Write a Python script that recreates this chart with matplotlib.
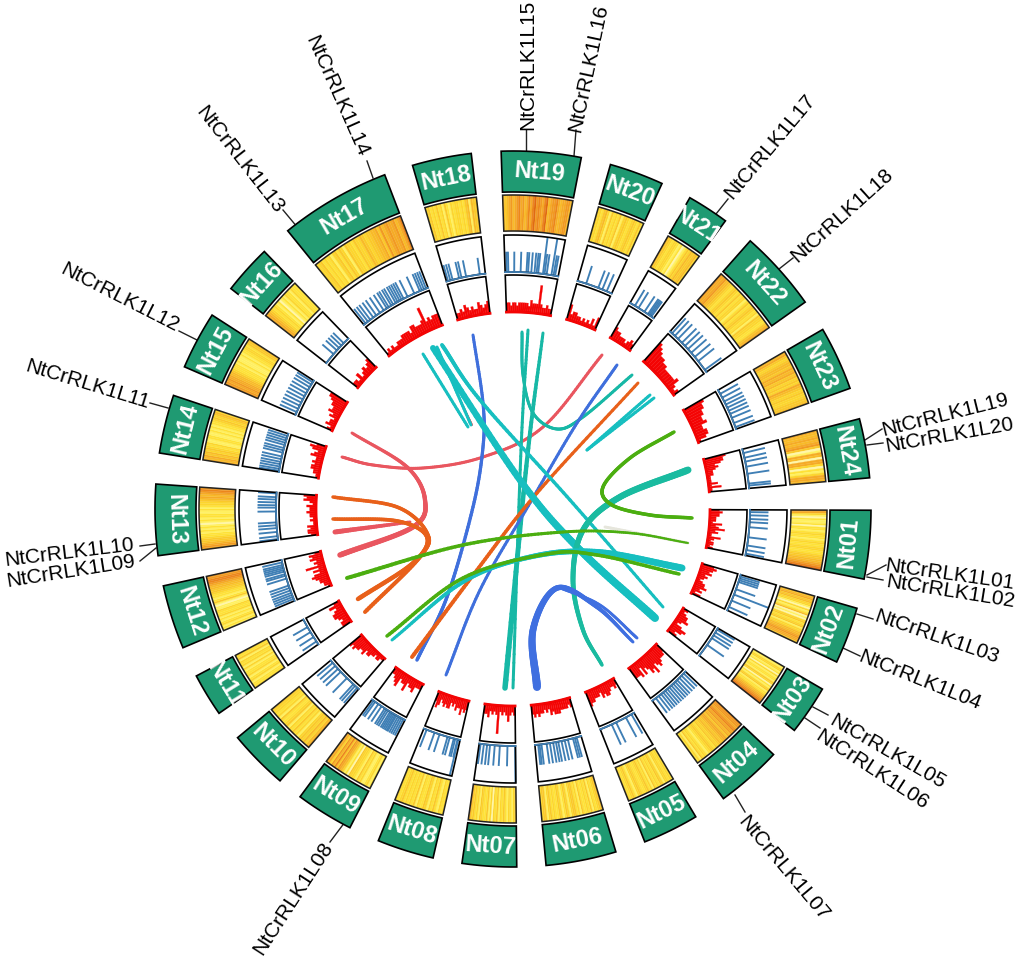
import numpy as np
import matplotlib
matplotlib.use('Agg')
import matplotlib.pyplot as plt
from matplotlib.collections import LineCollection, PolyCollection
from matplotlib.patches import Polygon

plt.rcParams['font.family'] = ['Liberation Sans', 'DejaVu Sans']

# Chromosome sectors, degrees clockwise from the top
chrom_names = ['Nt01', 'Nt02', 'Nt03', 'Nt04', 'Nt05', 'Nt06', 'Nt07', 'Nt08', 'Nt09', 'Nt10', 'Nt11', 'Nt12',
               'Nt13', 'Nt14', 'Nt15', 'Nt16', 'Nt17', 'Nt18', 'Nt19', 'Nt20', 'Nt21', 'Nt22', 'Nt23', 'Nt24']
chrom_start = [90.2, 106.1, 120.2, 133.3, 149.3, 163.3, 179.4, 192.9, 207.1, 220.6, 235.2, 247.2,
               262.5, 279.0, 293.4, 308.0, 321.0, 343.7, 358.1, 375.8, 389.6, 401.5, 419.9, 435.4]
chrom_end = [101.3, 115.3, 128.2, 144.0, 158.4, 174.7, 188.2, 202.1, 216.5, 230.3, 242.2, 257.6,
             274.0, 288.5, 302.8, 316.0, 339.0, 353.3, 371.0, 384.6, 396.4, 414.7, 430.3, 445.0]

# Heat ring levels, one digit per stripe (0 pale .. 9 dark orange)
heat_levels = [
    '76310211202212322123223322344556789',
    '5564533103125010342341335567664',
    '2133120312214302134122456789',
    '87767867564665454342343212324132',
    '2323313423241324322343124323',
    '54323142322413244313421342232431443',
    '4312312423142303142234132436',
    '3231242313422314232324323',
    '2132113241233402135674857366',
    '6535343132423143224132334',
    '32213213221313231423',
    '12132121322311014212234455678877',
    '67654432212121012122112123345656787',
    '6564534323112211212122343453',
    '7767665543222121112122332445',
    '6654323212012132213222',
    '3342323134243143324335434455647567667568',
    '3423242314213233232451544',
    '54567567867568689787689567786566775',
    '33245314232413432343242',
    '5432332120124354453',
    '76675543234324233124234323143322456',
    '56434554656453436543433445',
    '65565674016506630213665',
]

# Gene ticks, position along the sector 0..1
gene_ticks = [
    [.05, .12, .2, .27, .38, .6, .78, .88, .96],
    [.05, .1, .15, .2, .4, .72, .9],
    [.05, .15, .25, .35, .6],
    [.06, .13, .2, .27, .33, .39, .45, .51, .57, .63, .69, .75, .82, .9],
    [.08, .25, .54, .67],
    [.1, .14, .18, .29, .36, .43, .5, .55, .61, .68, .75, .86, .9, .93],
    [.22, .43, .57, .7, .78, .87, .96],
    [.07, .13, .17, .28, .34, .56, .7, .92],
    [.05, .1, .15, .2, .25, .28, .32, .36, .4, .44, .5, .55, .6, .7, .8, .9, .95],
    [.05, .12, .18, .4, .62, .72, .82, .92],
    [.12, .3, .5, .7],
    [.05, .1, .15, .2, .26, .32, .38, .55, .62, .66, .72, .76, .8, .84, .88, .94],
    [.02, .08, .17, .25, .31, .37, .6, .68, .73, .79, .85, .9, .98],
    [.03, .08, .14, .2, .26, .33, .4, .5, .56, .62, .7, .76, .82, .88, .94],
    [.08, .17, .26, .35, .44, .53, .62, .71, .8, .88, .95],
    [.35, .5, .6, .7, .8],
    [.03, .07, .11, .16, .21, .27, .33, .38, .41, .45, .48, .52, .55, .58, .61, .64, .7, .8, .88, .91, .94, .97],
    [.04, .1, .16, .33, .39, .51, .86],
    [.03, .06, .17, .29, .4, .43, .49, .55, .59, .62, .74, .78, .91, .94],
    [.25, .6, .72, .85],
    [.2, .35, .6, .75, .8, .85, .9],
    [.05, .12, .2, .3, .38, .46, .55, .65, .75, .95],
    [.1, .2, .3, .38, .46, .54, .62, .72, .85, .95],
    [.1, .22, .32, .45, .63, .88, .93],
]
gene_tall = [[], [.55], [], [], [], [], [.01], [.05], [], [], [], [], [], [], [], [], [], [], [.71, .87], [], [], [], [], []]
tick_height = [.5, .55, .55, .5, .6, .55, .55, .5, .5, .55, .45, .55, .5, .55, .5, .4, .5, .45, .55, .5, .5, .55, .55, .6]

# Red density profile, one digit per bin (tenths of the box height)
density = [
    '34332221423523114212212',
    '45434232123342313',
    '2123342135423',
    '3444565475643525444',
    '2322344342333445',
    '32333344434232334343',
    '3235323293232433',
    '3435334232443432453',
    '2224332533254322',
    '112212233243344545',
    '3323443242',
    '1223345424262324342',
    '23323112122322312434',
    '1122332322432453',
    '2132213243344566',
    '2213123234',
    '121211222333324433348343444',
    '223243232243234',
    '33233233333243339322322',
    '52332212121314',
    '4332221232',
    '8765544333334212',
    '76655445334431',
    '7665343222111131411',
]

gene_labels = ['NtCrRLK1L%02d' % i for i in range(1, 21)]
label_x = [950, 950, 937, 920, 887, 872, 783, 293, 71, 69, 87, 120, 240, 337, 528, 588, 770, 842, 945, 949]
label_y = [575, 592, 637, 680, 752, 770, 868, 898, 571, 553, 385, 298, 160, 96, 65, 68, 147, 215, 415, 435]
label_rot = [-8, -9, -19, -22, -30, -33, -50, 57, 9, 7, -17, -27, -52, -66, 90, 78, 50, 42, 14, 10]
leader_x0 = [867, 867, 857, 843, 813, 805, 735, 345, 156, 155, 168, 197, 298, 373, 526, 574, 716, 779, 867, 865]
leader_y0 = [575, 577, 614, 648, 707, 718, 795, 822, 548, 544, 408, 340, 228, 178, 152, 156, 214, 269, 445, 440]
leader_x1 = [886, 883, 873, 860, 828, 820, 745, 330, 140, 140, 150, 179, 283, 367, 526, 576, 728, 793, 883, 882]
leader_y1 = [565, 580, 619, 656, 715, 728, 812, 842, 561, 546, 403, 331, 210, 161, 130, 130, 199, 258, 443, 429]

# Links: waypoints in picture pixels, width at both ends (px) and colour
link_points = [
    [(460, 400), (472, 425)],
    [(602, 355), (543, 427), (483, 457), (423, 468), (373, 465), (342, 457)],
    [(352, 433), (407, 467), (425, 500), (413, 527), (340, 555)],
    [(335, 532), (410, 522)],
    [(473, 335), (483, 403), (483, 447), (473, 507), (447, 597), (417, 660)],
    [(522, 332), (523, 375), (533, 413), (557, 429), (583, 417), (632, 375)],
    [(528, 330), (521, 450), (513, 688)],
    [(543, 333), (527, 460), (505, 688)],
    [(617, 365), (577, 423), (530, 503), (480, 590), (446, 675)],
    [(638, 383), (537, 493), (477, 570), (412, 657)],
    [(333, 497), (397, 507), (427, 533), (420, 557), (365, 612)],
    [(333, 519), (397, 521), (427, 537), (413, 563), (358, 599)],
    [(423, 354), (468, 427)],
    [(437, 347), (471, 425)],
    [(442, 345), (480, 400), (570, 500), (663, 607)],
    [(433, 348), (520, 480), (580, 550), (655, 618)],
    [(587, 450), (650, 395)],
    [(587, 450), (654, 398)],
    [(688, 470), (620, 497), (583, 530), (573, 580), (583, 630), (602, 665)],
    [(537, 687), (533, 630), (557, 588), (597, 607), (633, 642)],
    [(560, 588), (600, 605), (637, 638)],
    [(674, 432), (630, 458), (603, 487), (612, 505), (650, 515), (692, 518)],
    [(605, 527), (688, 543)],
    [(347, 578), (463, 545), (563, 532), (630, 533), (688, 543)],
    [(392, 640), (463, 582), (530, 557), (597, 552), (682, 568)],
    [(387, 636), (463, 578), (547, 554), (597, 555), (679, 574)],
]
link_w0 = [2, 3, 3, 5, 3, 3, 3, 3, 3, 3, 3.5, 3.5, 3, 3, 4, 6, 3, 3, 7, 8, 2.5, 3.5, 3, 4, 3, 3.5]
link_w1 = [2, 3, 5.5, 3, 3.5, 3, 3, 5.5, 3, 4, 4, 4.5, 3, 3, 3, 8, 3, 3, 3.5, 3, 3, 3.5, 3, 2, 7, 3.5]
link_color = ['#e9565f', '#e9565f', '#e9565f', '#e9565f', '#3f6fdc', '#17b8a6', '#17b8a6', '#17b8a6', '#3f6fdc',
              '#e8601a', '#e8601a', '#e8601a', '#17bfc0', '#17bfc0', '#17bfc0', '#17bfc0', '#17bfc0', '#17bfc0', '#1abba0',
              '#3f6fe0', '#3f6fe0', '#4bae10', '#e6e6dc', '#4bae10', '#17bfc0', '#4bae10']

heat_palette = ['#fff6a8', '#fff060', '#fee238', '#fcd62e', '#fac92a', '#f8bb28', '#f5ab26', '#f19a22', '#ec861c', '#e06a12']
green = '#1f9a72'
tick_blue = '#3f7fb5'
red = '#f40404'

cx, cy = 513, 509
r_red = (197, 234)
r_blue = (237, 274)
r_heat = (278, 314)
r_name = (317, 358)
PX = 0.72  # points per pixel at dpi 100


def pol(r, a):
    t = np.radians(a)
    return cx + r * np.sin(t), cy - r * np.cos(t)


def band(r0, r1, a0, a1):
    aa = np.linspace(a0, a1, max(2, int(abs(a1 - a0)) + 2))
    x0, y0 = pol(r0, aa)
    x1, y1 = pol(r1, aa[::-1])
    return np.column_stack([np.r_[x0, x1], np.r_[y0, y1]])


def smooth(points):
    # Catmull-Rom through the waypoints
    p = np.array(points, dtype=float)
    if len(p) == 2:
        return np.linspace(p[0], p[1], 30)
    p = np.vstack([2 * p[0] - p[1], p, 2 * p[-1] - p[-2]])
    out = []
    for i in range(1, len(p) - 2):
        t = np.linspace(0, 1, 30)[:, None]
        out.append(0.5 * (2 * p[i] + (p[i + 1] - p[i - 1]) * t
                          + (2 * p[i - 1] - 5 * p[i] + 4 * p[i + 1] - p[i + 2]) * t ** 2
                          + (3 * p[i] - p[i - 1] - 3 * p[i + 1] + p[i + 2]) * t ** 3))
    return np.vstack(out)


fig = plt.figure(figsize=(10.21, 9.6), dpi=100)
ax = fig.add_axes([0, 0, 1, 1])
ax.set_xlim(0, 1021)
ax.set_ylim(960, 0)
ax.axis('off')

for i, name in enumerate(chrom_names):
    a0, a1 = chrom_start[i], chrom_end[i]
    span = a1 - a0

    # name box, long names get cut by the box
    box = Polygon(band(r_name[0], r_name[1], a0, a1), closed=True, fc=green, ec='black', lw=1.2, zorder=3)
    ax.add_patch(box)
    mid = (a0 + a1) / 2
    rot = -mid if mid % 360 < 90 else (180 - mid if mid % 360 < 270 else 360 - mid)
    tx, ty = pol(sum(r_name) / 2, mid)
    txt = ax.text(tx, ty, name, color='white', fontsize=17, fontweight='bold', ha='center', va='center',
                  rotation=rot, rotation_mode='anchor', zorder=4)
    txt.set_clip_path(box)

    # heat stripes
    levels = [int(c) for c in heat_levels[i]]
    edges = np.linspace(a0, a1, len(levels) + 1)
    polys = [band(r_heat[0], r_heat[1], edges[k], edges[k + 1]) for k in range(len(levels))]
    colors = [heat_palette[v] for v in levels]
    ax.add_collection(PolyCollection(polys, facecolors=colors, edgecolors=colors, linewidths=0.2, zorder=2))
    ax.add_patch(Polygon(band(r_heat[0], r_heat[1], a0, a1), closed=True, fc='none', ec='#222222', lw=1.1, zorder=3))

    # gene ticks
    segs = []
    for f, h in [(f, tick_height[i]) for f in gene_ticks[i]] + [(f, 1.0) for f in gene_tall[i]]:
        a = a0 + f * span
        segs.append([pol(r_blue[0], a), pol(r_blue[0] + h * (r_blue[1] - r_blue[0]), a)])
    ax.add_collection(LineCollection(segs, colors=tick_blue, linewidths=1.35, zorder=2))
    ax.add_patch(Polygon(band(r_blue[0], r_blue[1], a0, a1), closed=True, fc='none', ec='black', lw=1.2, zorder=3))
    bx, by = pol(r_blue[0], np.linspace(a0, a1, 20))
    ax.plot(bx, by, color=tick_blue, lw=1.3, zorder=4)

    # density profile
    vals = [int(c) for c in density[i]]
    edges = np.linspace(a0, a1, len(vals) + 1)
    polys = [band(r_red[0], r_red[0] + 0.85 * v / 10 * (r_red[1] - r_red[0]), edges[k], edges[k + 1]) for k, v in enumerate(vals)]
    ax.add_collection(PolyCollection(polys, facecolors=red, edgecolors=red, linewidths=0.2, zorder=2))
    ax.add_patch(Polygon(band(r_red[0], r_red[1], a0, a1), closed=True, fc='none', ec='black', lw=1.2, zorder=3))
    bx, by = pol(r_red[0], np.linspace(a0, a1, 20))
    ax.plot(bx, by, color=red, lw=2, zorder=4)

# links
for pts, w0, w1, col in zip(link_points, link_w0, link_w1, link_color):
    c = smooth(pts)
    segs = np.stack([c[:-1], c[1:]], axis=1)
    widths = np.linspace(w0, w1, len(segs)) * PX
    ax.add_collection(LineCollection(segs, colors=col, linewidths=widths, capstyle='round', zorder=5))

# gene labels with their leader lines
for i, lab in enumerate(gene_labels):
    ax.plot([leader_x0[i], leader_x1[i]], [leader_y0[i], leader_y1[i]], color='#222222', lw=1.0, zorder=1)
    ax.text(label_x[i], label_y[i], lab, fontsize=15, color='black', ha='center', va='center',
            rotation=label_rot[i], rotation_mode='anchor', zorder=6)

fig.savefig('out.png', dpi=100, facecolor='white')
